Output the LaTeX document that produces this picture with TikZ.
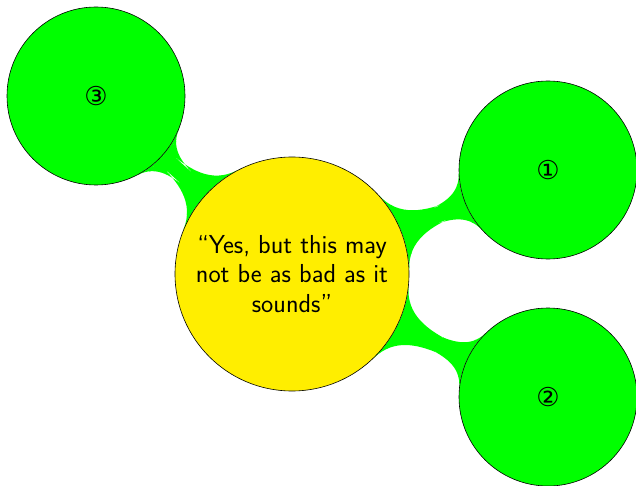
\documentclass[tikz,border=0pt]{standalone}
\usepackage{fontspec}
\newfontfamily\symfont{DejaVu Sans}
\usetikzlibrary{mindmap,backgrounds}
\definecolor{centr}{RGB}{255,238,0}
\definecolor{leafc}{RGB}{0,255,0}
\begin{document}
\begin{tikzpicture}[x=1pt,y=-1pt]
\useasboundingbox (0,0) rectangle (636,486);
\tikzset{
  bubble/.style={circle, draw=black, line width=0.6pt, align=center, inner sep=0pt},
  centre/.style={bubble, fill=centr, minimum size=234pt,
    font=\sffamily\fontsize{26}{29.5}\selectfont},
  leaf/.style={bubble, fill=leafc, minimum size=178pt,
    font=\symfont\fontsize{26}{26}\selectfont},
  bar/.style={circle connection bar switch color=from (leafc) to (leafc)}
}
\node[centre] (c) at (292,274) {``Yes, but this may\\not be as bad as it\\sounds''};
\node[leaf] (n3) at (96,96) {③};
\node[leaf] (n1) at (548,170) {①};
\node[leaf] (n2) at (548,397) {②};
\begin{pgfonlayer}{background}
\path (c) to[bar] (n3);
\path (c) to[bar] (n1);
\path (c) to[bar] (n2);
\end{pgfonlayer}
\end{tikzpicture}
\end{document}
